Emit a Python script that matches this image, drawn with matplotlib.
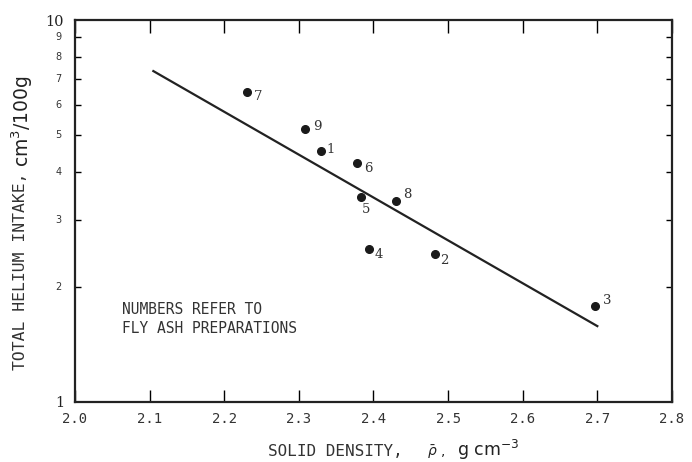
import matplotlib
matplotlib.use("Agg")
import matplotlib.pyplot as plt
from matplotlib.ticker import FixedLocator, NullFormatter

# fly ash preparations: solid density vs total helium intake
prep_ids = ["1", "2", "3", "4", "5", "6", "7", "8", "9"]
density = [2.330, 2.482, 2.697, 2.394, 2.383, 2.378, 2.231, 2.430, 2.308]
helium = [4.55, 2.44, 1.78, 2.51, 3.45, 4.23, 6.48, 3.35, 5.17]

# fitted line (end points)
fit_density = [2.105, 2.700]
fit_helium = [7.35, 1.58]

xticks = [2.0, 2.1, 2.2, 2.3, 2.4, 2.5, 2.6, 2.7, 2.8]
yticks_major = [1, 10]
yticks_minor = [2, 3, 4, 5, 6, 7, 8, 9]

MONO = "DejaVu Sans Mono"
INK = "#222222"
SOFT = "#333333"

fig = plt.figure(figsize=(6.92, 4.62), dpi=100)
ax = fig.add_axes([0.1084, 0.1299, 0.8626, 0.8268])

ax.plot(fit_density, fit_helium, color=INK, lw=1.6)
ax.plot(density, helium, "o", color="#1a1a1a", ms=5.5, ls="none")

# label offsets in points (dx, dy), relative to each marker
offsets = {"1": (7, 1), "2": (7, -5), "3": (9, 4), "4": (7, -4), "5": (4, -9),
           "6": (8, -4), "7": (8, -3), "8": (8, 5), "9": (9, 2)}
for pid, x, y in zip(prep_ids, density, helium):
    dx, dy = offsets[pid]
    ax.annotate(pid, (x, y), xytext=(dx, dy), textcoords="offset points",
                ha="center", va="center", fontsize=9.5, family="DejaVu Serif",
                color=SOFT)

ax.set_yscale("log")
ax.set_xlim(2.0, 2.8)
ax.set_ylim(1, 10)

ax.set_xticks(xticks)
ax.set_xticklabels(["{:.1f}".format(t) for t in xticks], fontsize=10,
                   family=MONO, color=SOFT)
ax.yaxis.set_major_locator(FixedLocator(yticks_major))
ax.yaxis.set_minor_locator(FixedLocator(yticks_minor))
ax.set_yticklabels([str(t) for t in yticks_major], fontsize=10.5,
                   family="DejaVu Serif", color=INK)
ax.yaxis.set_minor_formatter(NullFormatter())
for t in yticks_minor:
    ax.text(-0.022, t, str(t), transform=ax.get_yaxis_transform(),
            ha="right", va="center", fontsize=7, color=SOFT)

ax.tick_params(axis="x", which="major", direction="in", length=9, width=1,
               top=True, pad=7)
ax.tick_params(axis="y", which="major", direction="in", length=0, pad=8)
ax.tick_params(axis="y", which="minor", direction="in", length=4, width=1,
               right=True)
for side in ax.spines.values():
    side.set_linewidth(1.6)
    side.set_color(INK)

ax.text(0.079, 0.262, "NUMBERS REFER TO\nFLY ASH PREPARATIONS",
        transform=ax.transAxes, ha="left", va="top", fontsize=10.5,
        family=MONO, linespacing=1.3, color=SOFT)

# y label: typewriter words plus the unit in a plain sans face
fig.text(0.03, 0.199, "TOTAL HELIUM INTAKE,", rotation=90,
         ha="center", va="bottom", fontsize=11.8, family=MONO, color=SOFT)
fig.text(0.032, 0.638, "cm$^3$/100g", rotation=90,
         ha="center", va="bottom", fontsize=13.5, color=INK)

# x label
fig.text(0.387, 0.012, "SOLID DENSITY,", ha="left", va="baseline",
         fontsize=11.5, family=MONO, color=SOFT)
fig.text(0.617, 0.012, r"$\bar{\rho}$ ,", ha="left", va="baseline",
         fontsize=10, color=INK)
fig.text(0.660, 0.012, "g cm$^{-3}$", ha="left", va="baseline",
         fontsize=12.5, color=INK)

fig.savefig("out.png", dpi=100)
